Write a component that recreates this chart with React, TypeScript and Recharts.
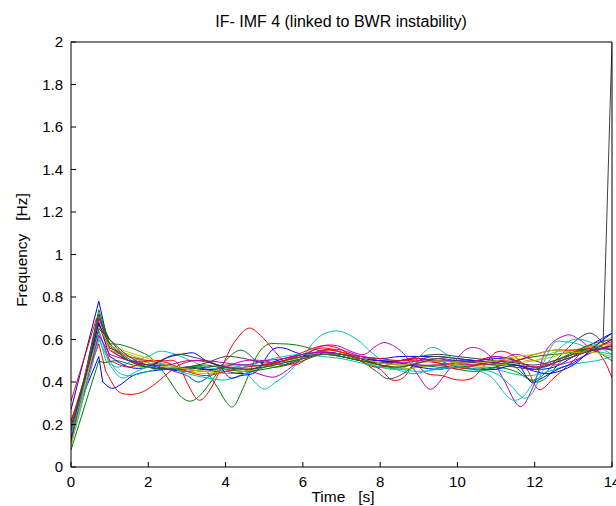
import React from 'react';
import { LineChart, Line, XAxis, YAxis } from 'recharts';

type P = [number, number];

// time [s], frequency [Hz]
const s01: P[] = [[0,0.27],[0.72,0.78],[1.0,0.55],[1.5,0.5],[2,0.48],[2.5,0.46],[3,0.45],[3.5,0.46],[4,0.45],[4.5,0.44],[5,0.47],[5.5,0.5],[6,0.52],[6.5,0.54],[7,0.53],[7.5,0.52],[8,0.51],[8.5,0.52],[9,0.52],[9.5,0.52],[10,0.51],[10.5,0.5],[11,0.49],[11.5,0.48],[12,0.46],[12.5,0.47],[13,0.52],[13.5,0.58],[14,0.63]];
const s02: P[] = [[0,0.12],[0.72,0.74],[1.0,0.58],[1.3,0.575],[1.7,0.55],[2.1,0.51],[2.5,0.42],[2.8,0.34],[3.05,0.31],[3.3,0.33],[3.7,0.42],[4.0,0.5],[4.4,0.55],[4.8,0.5],[5.2,0.47],[5.6,0.48],[6,0.5],[6.5,0.53],[7,0.52],[7.5,0.5],[8,0.48],[8.5,0.47],[9,0.49],[9.5,0.5],[10,0.47],[10.5,0.46],[11,0.47],[11.5,0.45],[12,0.4],[12.3,0.42],[12.7,0.5],[13.2,0.55],[13.6,0.57],[14,0.55]];
const s03: P[] = [[0,0.22],[0.72,0.58],[0.9,0.45],[1.2,0.36],[1.5,0.342],[1.8,0.35],[2.1,0.38],[2.5,0.44],[2.8,0.48],[3.2,0.5],[3.6,0.49],[4,0.47],[4.5,0.46],[5,0.47],[5.5,0.5],[6,0.53],[6.5,0.56],[7,0.54],[7.5,0.5],[8,0.46],[8.3,0.41],[8.6,0.42],[8.9,0.48],[9.2,0.44],[9.6,0.43],[10,0.41],[10.4,0.42],[10.7,0.48],[11,0.54],[11.4,0.53],[11.8,0.46],[12.1,0.365],[12.5,0.42],[13,0.5],[13.45,0.57],[13.8,0.5],[14,0.42]];
const s04: P[] = [[0,0.18],[0.72,0.62],[0.9,0.5],[1.2,0.47],[1.6,0.5],[2,0.52],[2.3,0.545],[2.7,0.53],[3.1,0.5],[3.5,0.47],[4,0.46],[4.4,0.47],[4.7,0.41],[5.0,0.367],[5.3,0.4],[5.6,0.44],[6.0,0.52],[6.4,0.61],[6.9,0.64],[7.4,0.6],[7.8,0.535],[8.3,0.47],[8.8,0.44],[9.2,0.45],[9.6,0.47],[10,0.48],[10.5,0.47],[11,0.46],[11.4,0.44],[11.8,0.43],[12.2,0.44],[12.7,0.47],[13.2,0.49],[13.6,0.5],[14,0.52]];
const s05: P[] = [[0,0.15],[0.72,0.72],[1.0,0.55],[1.5,0.52],[2,0.5],[2.5,0.48],[3,0.46],[3.5,0.45],[4,0.47],[4.5,0.46],[5,0.43],[5.3,0.425],[5.7,0.47],[6.1,0.53],[6.5,0.57],[6.9,0.57],[7.3,0.54],[7.6,0.53],[7.9,0.57],[8.15,0.585],[8.6,0.535],[8.95,0.44],[9.3,0.366],[9.7,0.44],[10.15,0.543],[10.45,0.562],[10.85,0.52],[11.2,0.41],[11.62,0.284],[11.96,0.378],[12.3,0.55],[12.83,0.621],[13.17,0.598],[13.52,0.55],[14,0.58]];
const s06: P[] = [[0,0.16],[0.72,0.68],[1.0,0.56],[1.5,0.53],[2,0.5],[2.5,0.47],[3,0.45],[3.5,0.44],[4,0.45],[4.5,0.46],[5,0.47],[5.5,0.49],[6,0.52],[6.5,0.55],[7,0.54],[7.5,0.51],[8,0.48],[8.5,0.47],[9,0.49],[9.5,0.5],[10,0.49],[10.5,0.48],[11,0.5],[11.5,0.51],[12,0.5],[12.5,0.54],[13,0.55],[13.5,0.57],[14,0.61]];
const s07: P[] = [[0,0.14],[0.72,0.7],[1.0,0.6],[1.4,0.52],[2,0.47],[2.5,0.46],[3,0.47],[3.5,0.49],[4,0.52],[4.5,0.51],[5,0.49],[5.5,0.5],[6,0.52],[6.5,0.54],[7,0.53],[7.5,0.5],[7.9,0.45],[8.2,0.415],[8.6,0.44],[9,0.5],[9.4,0.52],[10,0.51],[10.5,0.5],[11,0.49],[11.5,0.48],[12,0.47],[12.4,0.48],[12.8,0.55],[13.1,0.6],[13.4,0.63],[13.6,0.615],[13.77,0.58],[14,2.0]];
const s08: P[] = [[0,0.2],[0.72,0.52],[0.82,0.4],[1.05,0.37],[1.3,0.39],[1.6,0.43],[2,0.45],[2.5,0.46],[3,0.47],[3.5,0.46],[4,0.44],[4.5,0.45],[5,0.48],[5.5,0.51],[6,0.53],[6.5,0.54],[7,0.53],[7.5,0.51],[8,0.5],[8.5,0.5],[9,0.51],[9.5,0.5],[10,0.5],[10.5,0.5],[11,0.51],[11.5,0.5],[11.9,0.4],[12.1,0.41],[12.6,0.46],[13,0.49],[13.5,0.55],[14,0.6]];
const s09: P[] = [[0,0.08],[0.72,0.5],[0.85,0.49],[1.2,0.5],[1.6,0.48],[2,0.47],[2.5,0.46],[3,0.46],[3.4,0.47],[3.77,0.38],[4.0,0.31],[4.2,0.284],[4.45,0.37],[4.8,0.52],[5.06,0.574],[5.41,0.58],[5.84,0.574],[6.2,0.558],[6.6,0.54],[7,0.52],[7.5,0.5],[8,0.48],[8.5,0.46],[9,0.47],[9.5,0.48],[10,0.46],[10.5,0.45],[11,0.47],[11.5,0.5],[12,0.52],[12.5,0.53],[13,0.54],[13.5,0.56],[14,0.55]];
const s10: P[] = [[0,0.31],[0.66,0.7],[1.0,0.55],[1.5,0.5],[2,0.5],[2.4,0.5],[2.75,0.49],[3.05,0.38],[3.3,0.315],[3.55,0.35],[3.9,0.47],[4.2,0.58],[4.59,0.653],[4.9,0.62],[5.2,0.56],[5.5,0.5],[5.8,0.48],[6.2,0.52],[6.6,0.55],[7,0.54],[7.5,0.52],[8,0.51],[8.5,0.5],[9,0.5],[9.5,0.49],[10,0.48],[10.5,0.5],[11,0.52],[11.5,0.5],[12,0.47],[12.5,0.5],[13,0.53],[13.5,0.55],[14,0.57]];
const s11: P[] = [[0,0.1],[0.72,0.6],[0.9,0.53],[1.2,0.45],[1.5,0.43],[2,0.45],[2.5,0.47],[3,0.44],[3.5,0.42],[4,0.41],[4.5,0.44],[5,0.47],[5.5,0.49],[6,0.51],[6.5,0.53],[7,0.52],[7.5,0.5],[8,0.47],[8.5,0.46],[8.9,0.5],[9.33,0.563],[9.8,0.52],[10.2,0.47],[10.6,0.45],[10.9,0.42],[11.36,0.321],[11.66,0.325],[11.9,0.38],[12.14,0.456],[12.48,0.58],[12.74,0.59],[13.1,0.58],[13.5,0.55],[14,0.53]];
const s12: P[] = [[0,0.13],[0.72,0.7],[1.0,0.56],[1.5,0.52],[2,0.49],[2.5,0.46],[3,0.43],[3.3,0.4],[3.6,0.43],[4,0.47],[4.5,0.5],[5,0.5],[5.5,0.48],[6,0.51],[6.5,0.55],[7,0.55],[7.5,0.52],[8,0.5],[8.5,0.49],[9,0.5],[9.5,0.51],[10,0.49],[10.5,0.48],[11,0.49],[11.5,0.53],[12,0.5],[12.5,0.48],[13,0.5],[13.5,0.54],[14,0.57]];
const s13: P[] = [[0,0.2],[0.72,0.66],[1,0.55],[1.5,0.52],[2,0.49],[2.5,0.47],[3,0.46],[3.5,0.45],[4,0.46],[4.5,0.47],[5,0.48],[5.5,0.5],[6,0.52],[6.5,0.54],[7,0.53],[7.5,0.5],[8,0.47],[8.5,0.46],[9,0.47],[9.5,0.48],[10,0.48],[10.5,0.47],[11,0.48],[11.5,0.49],[12,0.5],[12.5,0.52],[13,0.55],[13.5,0.57],[14,0.58]];
const s14: P[] = [[0,0.17],[0.72,0.67],[1,0.58],[1.5,0.5],[2,0.47],[2.5,0.46],[3,0.46],[3.5,0.47],[4,0.48],[4.5,0.48],[5,0.48],[5.5,0.5],[6,0.52],[6.5,0.53],[7,0.52],[7.5,0.5],[8,0.49],[8.5,0.5],[9,0.52],[9.5,0.53],[10,0.52],[10.5,0.51],[11,0.5],[11.5,0.49],[12,0.48],[12.5,0.5],[13,0.54],[13.5,0.58],[14,0.6]];
const s15: P[] = [[0,0.13],[0.72,0.68],[1,0.52],[1.5,0.47],[2,0.47],[2.5,0.515],[3.0,0.535],[3.2,0.535],[3.5,0.5],[3.86,0.47],[4.11,0.42],[4.4,0.43],[4.8,0.45],[5.2,0.55],[5.5,0.56],[5.8,0.54],[6.2,0.52],[6.6,0.54],[7,0.53],[7.5,0.51],[8,0.5],[8.5,0.49],[9,0.47],[9.5,0.46],[10,0.47],[10.5,0.46],[11,0.46],[11.5,0.48],[12,0.45],[12.4,0.44],[13,0.48],[13.5,0.56],[14,0.63]];
const s16: P[] = [[0,0.11],[0.72,0.72],[1,0.57],[1.5,0.5],[2,0.47],[2.5,0.46],[3,0.47],[3.5,0.48],[4,0.46],[4.5,0.45],[5,0.46],[5.5,0.48],[6,0.51],[6.5,0.53],[7,0.52],[7.5,0.5],[8,0.49],[8.5,0.48],[9,0.48],[9.5,0.47],[10,0.47],[10.5,0.48],[11,0.5],[11.5,0.47],[11.9,0.41],[12.2,0.43],[12.6,0.5],[13,0.53],[13.5,0.55],[14,0.5]];
const s17: P[] = [[0,0.21],[0.72,0.64],[1,0.5],[1.5,0.47],[2,0.5],[2.5,0.49],[3,0.45],[3.5,0.43],[4,0.45],[4.5,0.47],[5,0.48],[5.5,0.5],[6,0.54],[6.5,0.57],[6.9,0.56],[7.3,0.52],[7.7,0.48],[8,0.47],[8.5,0.5],[9,0.51],[9.5,0.49],[10,0.46],[10.5,0.48],[11,0.5],[11.5,0.5],[12,0.53],[12.5,0.55],[13,0.55],[13.5,0.56],[14,0.59]];
const s18: P[] = [[0,0.15],[0.72,0.64],[1,0.48],[1.3,0.42],[1.7,0.45],[2,0.47],[2.5,0.48],[3,0.43],[3.3,0.4],[3.7,0.44],[4,0.46],[4.5,0.47],[5,0.5],[5.5,0.52],[6,0.53],[6.5,0.52],[7,0.51],[7.5,0.49],[8,0.47],[8.5,0.46],[9,0.45],[9.5,0.46],[10,0.47],[10.5,0.46],[11,0.44],[11.4,0.38],[11.7,0.325],[11.95,0.35],[12.2,0.45],[12.6,0.55],[13,0.6],[13.4,0.59],[13.8,0.55],[14,0.53]];
const s19: P[] = [[0,0.12],[0.72,0.62],[1,0.53],[1.5,0.5],[2,0.48],[2.5,0.48],[3,0.5],[3.5,0.5],[4,0.49],[4.5,0.48],[5,0.5],[5.5,0.51],[6,0.53],[6.5,0.54],[7,0.53],[7.5,0.51],[8,0.49],[8.5,0.49],[9,0.48],[9.5,0.48],[10,0.49],[10.5,0.5],[11,0.52],[11.5,0.5],[12,0.47],[12.5,0.49],[13,0.52],[13.5,0.55],[14,0.56]];
const s20: P[] = [[0,0.1],[0.72,0.66],[1,0.57],[1.5,0.54],[2,0.51],[2.5,0.48],[3,0.46],[3.5,0.45],[4,0.44],[4.5,0.45],[5,0.47],[5.5,0.49],[6,0.51],[6.5,0.53],[7,0.53],[7.5,0.51],[8,0.49],[8.5,0.48],[9,0.49],[9.5,0.5],[10,0.49],[10.5,0.49],[11,0.5],[11.5,0.52],[12,0.53],[12.5,0.55],[13,0.54],[13.5,0.54],[14,0.52]];
const s21: P[] = [[0,0.19],[0.72,0.65],[1,0.6],[1.5,0.52],[2,0.48],[2.3,0.5],[2.7,0.53],[3.1,0.52],[3.5,0.5],[4,0.47],[4.5,0.46],[5,0.47],[5.5,0.49],[6,0.51],[6.5,0.53],[7,0.53],[7.5,0.51],[8,0.48],[8.5,0.47],[9,0.49],[9.5,0.51],[10,0.5],[10.5,0.49],[11,0.48],[11.5,0.47],[12,0.46],[12.5,0.49],[13,0.52],[13.5,0.55],[14,0.57]];

const allSeries: P[][] = [s01,s02,s03,s04,s05,s06,s07,s08,s09,s10,s11,s12,s13,s14,s15,s16,s17,s18,s19,s20,s21];
// MATLAB colour order: b g r c m y k
const colorOrder = ['#0000FF', '#008000', '#FF0000', '#00BFBF', '#BF00BF', '#BFBF00', '#404040'];
const xTicks = [0, 2, 4, 6, 8, 10, 12, 14];
const yTicks = [0, 0.2, 0.4, 0.6, 0.8, 1, 1.2, 1.4, 1.6, 1.8, 2];
const titleText = 'IF- IMF 4 (linked to BWR instability)';
const xLabel = 'Time   [s]';
const yLabel = 'Frequency   [Hz]';

const FONT = '"Liberation Sans", Arial, sans-serif';
const TICK = 5;

// smooth interpolation (cubic Hermite with finite-difference tangents),
// with optional straight segments at the head and tail
function makeCurve(linearHead: number, linearTail: number) {
  return (ctx: any) => {
    let xs: number[] = [];
    let ys: number[] = [];
    return {
      areaStart() {},
      areaEnd() {},
      lineStart() { xs = []; ys = []; },
      point(x: number, y: number) { xs.push(+x); ys.push(+y); },
      lineEnd() {
        const n = xs.length;
        if (n === 0) return;
        ctx.moveTo(xs[0], ys[0]);
        const isLin = (i: number) => i < linearHead || i >= n - 1 - linearTail;
        const slope = (i: number) => {
          const prevOk = i > 0 && !isLin(i - 1);
          const nextOk = i < n - 1 && !isLin(i);
          const a = prevOk ? i - 1 : i;
          const b = nextOk ? i + 1 : i;
          if (a === b) return 0;
          return (ys[b] - ys[a]) / (xs[b] - xs[a]);
        };
        for (let i = 0; i < n - 1; i++) {
          if (isLin(i)) { ctx.lineTo(xs[i + 1], ys[i + 1]); continue; }
          const h = (xs[i + 1] - xs[i]) / 3;
          ctx.bezierCurveTo(xs[i] + h, ys[i] + slope(i) * h, xs[i + 1] - h, ys[i + 1] - slope(i + 1) * h, xs[i + 1], ys[i + 1]);
        }
      },
    };
  };
}

const fmt = (v: number) => String(Math.round(v * 10) / 10);

const BottomTick = (p: any) => (
  <g>
    <line x1={p.x} x2={p.x} y1={p.y} y2={p.y - TICK} stroke="#000" />
    <text x={p.x} y={p.y + 9} dy="0.71em" textAnchor="middle" fontSize={15} fontFamily={FONT} fill="#000">{fmt(p.payload.value)}</text>
  </g>
);
const TopTick = (p: any) => (
  <line x1={p.x} x2={p.x} y1={p.y} y2={p.y + TICK} stroke="#000" />
);
const LeftTick = (p: any) => (
  <g>
    <line x1={p.x} x2={p.x + TICK} y1={p.y} y2={p.y} stroke="#000" />
    <text x={p.x - 8} y={p.y} dy="0.355em" textAnchor="end" fontSize={15} fontFamily={FONT} fill="#000">{fmt(p.payload.value)}</text>
  </g>
);
const RightTick = (p: any) => (
  <line x1={p.x} x2={p.x - TICK} y1={p.y} y2={p.y} stroke="#000" />
);

export default function App() {
  return (
    <div style={{ position: 'absolute', left: 0, top: 0, width: 616, height: 506, background: '#fff' }}>
      <LineChart width={616} height={506} margin={{ top: 41, right: 3, bottom: 38, left: 70 }}>
        <XAxis xAxisId="b" dataKey="t" type="number" domain={[0, 14]} ticks={xTicks} allowDataOverflow
          height={1} stroke="#000" tickLine={false} tickSize={0} tickMargin={0} tick={BottomTick} interval={0} />
        <XAxis xAxisId="top" orientation="top" dataKey="t" type="number" domain={[0, 14]} ticks={xTicks}
          height={1} stroke="#000" tickLine={false} tickSize={0} tickMargin={0} tick={TopTick} interval={0} />
        <YAxis yAxisId="l" type="number" domain={[0, 2]} ticks={yTicks} allowDataOverflow width={1}
          stroke="#000" tickLine={false} tickSize={0} tickMargin={0} tick={LeftTick} interval={0} />
        <YAxis yAxisId="r" orientation="right" type="number" domain={[0, 2]} ticks={yTicks} width={1}
          stroke="#000" tickLine={false} tickSize={0} tickMargin={0} tick={RightTick} interval={0} />
        {allSeries.map((s, i) => (
          <Line
            key={i}
            xAxisId="b"
            yAxisId="l"
            data={s.map(([t, v]) => ({ t, v }))}
            dataKey="v"
            type={makeCurve(2, s === s07 ? 1 : 0) as any}
            stroke={colorOrder[i % colorOrder.length]}
            strokeWidth={1}
            dot={false}
            activeDot={false}
            isAnimationActive={false}
          />
        ))}
      </LineChart>
      <svg width={616} height={506} style={{ position: 'absolute', left: 0, top: 0, pointerEvents: 'none' }}>
        <text x={341} y={26.5} textAnchor="middle" fontSize={16} fontFamily={FONT} fill="#000" style={{ whiteSpace: 'pre' }}>{titleText}</text>
        <text x={343} y={502} textAnchor="middle" fontSize={15.5} fontFamily={FONT} fill="#000" style={{ whiteSpace: 'pre' }}>{xLabel}</text>
        <text x={26.5} y={250} textAnchor="middle" fontSize={15.5} fontFamily={FONT} fill="#000" transform="rotate(-90 26.5 250)" style={{ whiteSpace: 'pre' }}>{yLabel}</text>
      </svg>
    </div>
  );
}
